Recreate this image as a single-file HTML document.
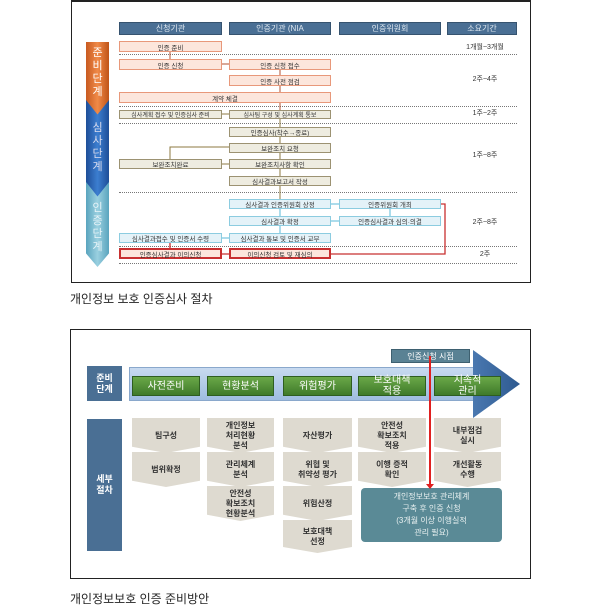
<!DOCTYPE html>
<html><head><meta charset="utf-8"><style>
body{margin:0;width:600px;height:615px;background:#fff;position:relative;font-family:"Liberation Sans","Noto Sans CJK KR",sans-serif;overflow:hidden}
div{position:absolute;box-sizing:border-box}
.t{display:flex;align-items:center;justify-content:center;text-align:center;white-space:nowrap}
.h{background:#4a6f94;color:#dfe8f0;font-size:8px;border:1px solid #36536f}
.o{background:#fce6dc;border:1px solid #e8987a;font-size:6.5px;color:#333}
.g{background:#eeece0;border:1px solid #9c9272;font-size:6.5px;color:#333}
.b{background:#e4f2f8;border:1px solid #8ccce0;font-size:6.5px;color:#333}
.r{background:#fce6dc;border:2px solid #c83030;font-size:6.5px;color:#333}
.d{height:0;border-top:1px dotted #777;left:119px;width:398px}
.du{font-size:7px;color:#333;left:450px;width:70px}
.gr{background:linear-gradient(#6aa848,#3f7a2a);color:#fff;font-size:10px;border:1px solid #2e5e20;line-height:11px}
.cv{background:#dedad0;clip-path:polygon(0 0,100% 0,100% 82%,50% 100%,0 82%);font-size:8px;font-weight:bold;color:#333;line-height:10px}
.lab{background:#4a6f94;color:#fff;font-size:9px;font-weight:bold;line-height:11px}
</style></head><body>
<div style="left:71px;top:0;width:460px;height:283px;border:1px solid #222;border-top-width:2px"></div>
<div class="t h" style="left:119px;top:22px;width:103px;height:13px">신청기관</div>
<div class="t h" style="left:229px;top:22px;width:102px;height:13px">인증기관 (NIA</div>
<div class="t h" style="left:339px;top:22px;width:102px;height:13px">인증위원회</div>
<div class="t h" style="left:447px;top:22px;width:70px;height:13px">소요기간</div>
<div style="left:86px;top:42px;width:23px;height:73px;background:linear-gradient(90deg,#c85a20,#f08a48,#c05418);clip-path:polygon(0 0,100% 0,100% 80%,50% 100%,0 80%)"></div>
<div style="left:86px;top:100px;width:23px;height:97px;background:linear-gradient(90deg,#1e4e98,#3c7ed0,#1e4e98);clip-path:polygon(0 0,50% 15%,100% 0,100% 85%,50% 100%,0 85%)"></div>
<div style="left:86px;top:182px;width:23px;height:85px;background:linear-gradient(90deg,#5aa4be,#9ad0e0,#5aa4be);clip-path:polygon(0 0,50% 17%,100% 0,100% 84%,50% 100%,0 84%)"></div>
<div class="t" style="left:86px;top:45px;width:23px;height:55px;color:#fff;font-size:11px;white-space:normal;line-height:13px">준<br>비<br>단<br>계</div>
<div class="t" style="left:86px;top:118px;width:23px;height:60px;color:#dde;font-size:11px;line-height:13px">심<br>사<br>단<br>계</div>
<div class="t" style="left:86px;top:200px;width:23px;height:55px;color:#e8f4f8;font-size:11px;line-height:13px">인<br>증<br>단<br>계</div>
<div class="t o" style="left:119px;top:41px;width:103px;height:11px">인증 준비</div>
<div class="d" style="top:54px"></div>
<div class="t o" style="left:119px;top:59px;width:103px;height:11px">인증 신청</div>
<div class="t o" style="left:229px;top:59px;width:102px;height:11px">인증 신청 접수</div>
<div class="t o" style="left:229px;top:75px;width:102px;height:11px">인증 사전 점검</div>
<div class="t o" style="left:119px;top:92px;width:212px;height:11px">계약 체결</div>
<div class="d" style="top:106px"></div>
<div class="t g" style="left:119px;top:110px;width:103px;height:9px;font-size:6px">심사계획 접수 및 인증심사 준비</div>
<div class="t g" style="left:229px;top:110px;width:102px;height:9px;font-size:6px">심사팀 구성 및 심사계획 통보</div>
<div class="d" style="top:123px"></div>
<div class="t g" style="left:229px;top:127px;width:102px;height:10px">인증심사(착수→종료)</div>
<div class="t g" style="left:229px;top:143px;width:102px;height:10px">보완조치 요청</div>
<div class="t g" style="left:119px;top:159px;width:103px;height:10px">보완조치완료</div>
<div class="t g" style="left:229px;top:159px;width:102px;height:10px">보완조치사항 확인</div>
<div class="t g" style="left:229px;top:176px;width:102px;height:10px">심사결과보고서 작성</div>
<div class="d" style="top:192px"></div>
<div class="t b" style="left:229px;top:199px;width:102px;height:10px">심사결과 인증위원회 상정</div>
<div class="t b" style="left:339px;top:199px;width:102px;height:10px">인증위원회 개최</div>
<div class="t b" style="left:229px;top:216px;width:102px;height:10px">심사결과 확정</div>
<div class="t b" style="left:339px;top:216px;width:102px;height:10px">인증심사결과 심의·의결</div>
<div class="t b" style="left:119px;top:233px;width:103px;height:10px">심사결과접수 및 인증서 수령</div>
<div class="t b" style="left:229px;top:233px;width:102px;height:10px">심사결과 통보 및 인증서 교부</div>
<div class="d" style="top:246px"></div>
<div class="t r" style="left:119px;top:248px;width:103px;height:11px">인증심사결과 이의신청</div>
<div class="t r" style="left:229px;top:248px;width:102px;height:11px">이의신청 검토 및 재심의</div>
<div class="d" style="top:263px"></div>
<div class="t du" style="top:42px;height:10px">1개월~3개월</div>
<div class="t du" style="top:74px;height:10px">2주~4주</div>
<div class="t du" style="top:108px;height:10px">1주~2주</div>
<div class="t du" style="top:150px;height:10px">1주~8주</div>
<div class="t du" style="top:217px;height:10px">2주~8주</div>
<div class="t du" style="top:249px;height:10px">2주</div>
<svg style="position:absolute;left:0;top:0" width="600" height="300">
<g stroke-width="1" fill="none">
<path d="M170 52V59M222 64H229M280 70V75M280 86V92M280 103V110" stroke="#b05030"/>
<path d="M229 114H222M280 119V127M280 137V143M229 147H170V159M222 164H229M280 153V159M280 169V176M280 186V199" stroke="#8c7a40"/>
<path d="M331 204H339M390 209V216M339 221H331M280 209V216M280 226V233M229 238H222" stroke="#58b8d8"/>
<path d="M170 243V248M222 254H229M331 254H445V204H441" stroke="#c83030" stroke-width="1.3"/>
</g></svg>
<div style="left:70px;top:290px;font-size:12px;color:#222">개인정보 보호 인증심사 절차</div>
<div style="left:70px;top:329px;width:461px;height:250px;border:1px solid #222"></div>
<div class="t lab" style="left:87px;top:366px;width:35px;height:35px">준비<br>단계</div>
<div class="t lab" style="left:87px;top:419px;width:35px;height:132px">세부<br>절차</div>
<div style="left:129px;top:367px;width:345px;height:34px;background:linear-gradient(#c8daf0,#9ebde0);border:1px solid #8aa8cc"></div>
<div style="left:473px;top:350px;width:47px;height:68px;background:linear-gradient(90deg,#4a78b0,#2e5a90);clip-path:polygon(0 0,100% 50%,0 100%)"></div>
<div class="t gr" style="left:132px;top:376px;width:68px;height:20px">사전준비</div>
<div class="t gr" style="left:207px;top:376px;width:67px;height:20px">현황분석</div>
<div class="t gr" style="left:283px;top:376px;width:69px;height:20px">위험평가</div>
<div class="t gr" style="left:358px;top:376px;width:68px;height:20px">보호대책<br>적용</div>
<div class="t gr" style="left:434px;top:376px;width:67px;height:20px">지속적<br>관리</div>
<div class="t" style="left:391px;top:349px;width:79px;height:14px;background:#5a8294;color:#fff;font-size:8px;border:1px solid #3e6070">인증신청 시점</div>
<div class="t cv" style="left:132px;top:418px;width:68px;height:35px">팀구성</div>
<div class="t cv" style="left:132px;top:452px;width:68px;height:35px">범위확정</div>
<div class="t cv" style="left:207px;top:418px;width:67px;height:35px">개인정보<br>처리현황<br>분석</div>
<div class="t cv" style="left:207px;top:452px;width:67px;height:35px">관리체계<br>분석</div>
<div class="t cv" style="left:207px;top:486px;width:67px;height:35px">안전성<br>확보조치<br>현황분석</div>
<div class="t cv" style="left:283px;top:418px;width:69px;height:35px">자산평가</div>
<div class="t cv" style="left:283px;top:452px;width:69px;height:35px">위협 및<br>취약성 평가</div>
<div class="t cv" style="left:283px;top:486px;width:69px;height:35px">위험산정</div>
<div class="t cv" style="left:283px;top:520px;width:69px;height:33px">보호대책<br>선정</div>
<div class="t cv" style="left:358px;top:418px;width:68px;height:35px">안전성<br>확보조치<br>적용</div>
<div class="t cv" style="left:358px;top:452px;width:68px;height:35px">이행 증적<br>확인</div>
<div class="t cv" style="left:434px;top:418px;width:67px;height:35px">내부점검<br>실시</div>
<div class="t cv" style="left:434px;top:452px;width:67px;height:35px">개선활동<br>수행</div>
<div class="t" style="left:361px;top:488px;width:141px;height:54px;background:#5a8a96;border-radius:4px;color:#e8f0f0;font-size:8px;line-height:12px">개인정보보호 관리체계<br>구축 후 인증 신청<br>(3개월 이상 이행실적<br>관리 필요)</div>
<div style="left:429px;top:356px;width:2px;height:130px;background:#e02020"></div>
<div style="left:426px;top:484px;width:0;height:0;border-left:4px solid transparent;border-right:4px solid transparent;border-top:5px solid #e02020"></div>
<div style="left:70px;top:590px;font-size:12px;color:#222">개인정보보호 인증 준비방안</div>
</body></html>
